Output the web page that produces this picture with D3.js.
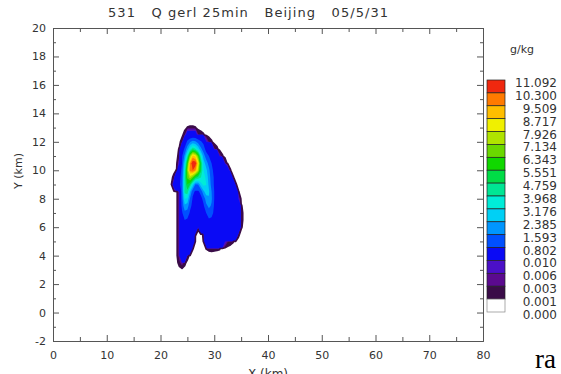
<!DOCTYPE html>
<html>
<head>
<meta charset="utf-8">
<script src="https://cdn.jsdelivr.net/npm/d3@7"></script>
<style>
  body { margin: 0; background: #fff; }
  text { font-family: "DejaVu Sans", sans-serif; fill: #333; }
  .axis path, .axis line { stroke: #555; }
</style>
</head>
<body>
<div id="chart"></div>
<script>
var title = "531   Q gerl 25min   Beijing   05/5/31";
var xTicks = [0, 10, 20, 30, 40, 50, 60, 70, 80];
var xMinor = [5, 15, 25, 35, 45, 55, 65, 75];
var yTicks = [-2, 0, 2, 4, 6, 8, 10, 12, 14, 16, 18, 20];
var yMinor = [-1, 1, 3, 5, 7, 9, 11, 13, 15, 17, 19];

// contour levels (g/kg), lowest first
var levels = [0.001, 0.003, 0.006, 0.010, 0.802, 1.593, 2.385, 3.176, 3.968,
              4.759, 5.551, 6.343, 7.134, 7.926, 8.717, 9.509, 10.300];
var levelColors = ["#3a0c48", "#5b0a8f", "#4b10c8", "#0a0af5", "#0050ff", "#0096ff",
                   "#00d0f5", "#00ecd8", "#00e694", "#00dc46", "#10d800", "#6ad800",
                   "#b0e400", "#f0f000", "#ffbe00", "#ff7a00", "#f0280f"];
var legendLabels = ["11.092", "10.300", "9.509", "8.717", "7.926", "7.134", "6.343",
                    "5.551", "4.759", "3.968", "3.176", "2.385", "1.593", "0.802",
                    "0.010", "0.006", "0.003", "0.001", "0.000"];

// Q graupel grid, x = 21.5..36 km, y = 13.5..2.5 km (top row first), 0.5 km step
var gridX0 = 21.5, gridY0 = 13.5, gridStep = 0.5;
var qg = [
  [0,0,0,0,0,0,0,0,0,0,0,0,0,0,0,0,0,0,0,0,0,0,0,0,0,0,0,0,0,0],
  [0,0,0,0,0,0,0,.0011,.0013,.0013,.0011,0,0,0,0,0,0,0,0,0,0,0,0,0,0,0,0,0,0,0],
  [0,0,0,0,0,0,.0025,.02,.02,.02,.02,.0033,.002,.00125,0,0,0,0,0,0,0,0,0,0,0,0,0,0,0,0],
  [0,0,0,0,0,.0025,.05,1.0,1.5,1.9,1.7,1.2,.9,.6,.01,.0028,.0013,0,0,0,0,0,0,0,0,0,0,0,0,0],
  [0,0,0,0,.0013,.1,1.0,2.0,3.5,4.5,4.0,3.0,1.8,1.2,.5,.1,.1,.0036,.0015,0,0,0,0,0,0,0,0,0,0,0],
  [0,0,0,0,.0023,.7,1.8,4.0,7.0,9.0,8.5,6.5,3.8,2.0,1.2,.8,.5,.1,.1,.005,.0013,0,0,0,0,0,0,0,0,0],
  [0,0,0,0,.01,.8,2.8,6.0,9.5,11.0,10.8,8.5,5.2,2.8,2.0,1.3,.8,.5,.5,.3,.1,.0038,0,0,0,0,0,0,0,0],
  [0,0,0,.00125,.4,1.0,3.5,7.0,9.8,10.3,9.5,7.5,5.0,3.2,2.6,1.8,1.0,.6,.5,.5,.5,.1,.02,.0012,0,0,0,0,0,0],
  [0,0,.002,.1,.5,1.2,4.0,6.5,7.5,6.5,5.0,4.5,4.0,3.5,3.0,2.0,1.2,.7,.5,.5,.5,.5,.5,.1,.0013,0,0,0,0,0],
  [0,0,.02,.3,.6,1.3,4.0,5.5,4.8,3.0,1.5,1.6,2.8,3.4,3.2,2.2,1.3,.7,.5,.5,.5,.5,.5,.5,.1,.0014,0,0,0,0],
  [0,0,0,0,.005,1.2,4.2,4.5,2.5,1.0,.7,.7,1.0,2.2,2.8,2.5,1.6,.8,.5,.5,.5,.5,.5,.5,.5,.1,.0012,0,0,0],
  [0,0,0,0,.005,1.1,3.2,3.0,1.5,.7,.5,.5,.6,1.0,2.0,2.3,1.7,.8,.5,.5,.5,.5,.5,.5,.5,.3,.01,0,0,0],
  [0,0,0,0,.005,1.0,2.2,2.0,1.0,.6,.5,.5,.5,.7,1.4,1.8,1.5,.7,.5,.5,.5,.5,.5,.5,.5,.5,.1,.0014,0,0],
  [0,0,0,0,.005,.7,1.3,1.2,.7,.5,.5,.5,.5,.5,.8,1.2,1.1,.6,.5,.5,.5,.5,.5,.5,.5,.5,.1,.0025,0,0],
  [0,0,0,0,.005,.5,.8,.7,.5,.5,.5,.5,.5,.5,.6,.7,.6,.5,.5,.5,.5,.5,.5,.5,.5,.5,.1,.0025,0,0],
  [0,0,0,0,.005,.5,.5,.5,.5,.5,.5,.0017,.5,.5,.5,.5,.5,.5,.5,.5,.5,.5,.5,.5,.5,.5,.1,.0015,0,0],
  [0,0,0,0,.005,.5,.5,.5,.5,.3,.0014,0,0,.0015,.1,.5,.5,.5,.5,.5,.5,.5,.5,.5,.3,.1,.0017,0,0,0],
  [0,0,0,0,.005,.5,.5,.5,.5,.05,0,0,0,.0011,.1,.3,.3,.3,.3,.3,.3,.01,.0033,.002,.0012,0,0,0,0,0],
  [0,0,0,0,.005,.5,.5,.3,.1,.0012,0,0,0,0,.0011,.0015,.0017,.0015,.0014,.0012,0,0,0,0,0,0,0,0,0,0],
  [0,0,0,0,.005,.5,.3,.0025,0,0,0,0,0,0,0,0,0,0,0,0,0,0,0,0,0,0,0,0,0,0],
  [0,0,0,0,.002,.005,.0017,0,0,0,0,0,0,0,0,0,0,0,0,0,0,0,0,0,0,0,0,0,0,0],
  [0,0,0,0,0,0,0,0,0,0,0,0,0,0,0,0,0,0,0,0,0,0,0,0,0,0,0,0,0,0],
  [0,0,0,0,0,0,0,0,0,0,0,0,0,0,0,0,0,0,0,0,0,0,0,0,0,0,0,0,0,0]
];

var w = 561, h = 374;
var plotLeft = 53, plotRight = 483, plotTop = 28, plotBottom = 341;

var svg = d3.select("#chart").append("svg")
    .attr("width", w)
    .attr("height", h);

var x = d3.scaleLinear().domain([0, 80]).range([plotLeft, plotRight]);
var y = d3.scaleLinear().domain([-2, 20]).range([plotBottom, plotTop]);

// filled contours
var nx = qg[0].length, ny = qg.length;
var values = [].concat.apply([], qg);
var contours = d3.contours().size([nx, ny]).thresholds(levels)(values);

var proj = d3.geoTransform({
  point: function(gx, gy) {
    this.stream.point(x(gridX0 + gridStep * (gx - 0.5)), y(gridY0 - gridStep * (gy - 0.5)));
  }
});
var path = d3.geoPath(proj);

var cg = svg.append("g");
cg.selectAll("path.band")
    .data(contours)
    .enter().append("path")
    .attr("class", "band")
    .attr("d", path)
    .attr("fill", function(d, i) { return levelColors[i]; });

// dark rim of the lowest level
cg.append("path")
    .attr("d", path(contours[0]))
    .attr("fill", "none")
    .attr("stroke", levelColors[0])
    .attr("stroke-width", 1.6)
    .attr("stroke-linejoin", "round");

// axes, IDL style box with inward ticks
function drawAxis(axis, tx, ty) {
  return svg.append("g").attr("class", "axis")
      .attr("transform", "translate(" + tx + "," + ty + ")")
      .call(axis);
}
var fmt = function(d) { return String(d); };

drawAxis(d3.axisBottom(x).tickValues(xTicks).tickFormat(fmt).tickSizeInner(-6).tickSizeOuter(0).tickPadding(10), 0, plotBottom);
drawAxis(d3.axisBottom(x).tickValues(xMinor).tickFormat("").tickSizeInner(-4).tickSizeOuter(0), 0, plotBottom);
drawAxis(d3.axisTop(x).tickValues(xTicks).tickFormat("").tickSizeInner(-6).tickSizeOuter(0), 0, plotTop);
drawAxis(d3.axisTop(x).tickValues(xMinor).tickFormat("").tickSizeInner(-4).tickSizeOuter(0), 0, plotTop);
drawAxis(d3.axisLeft(y).tickValues(yTicks).tickFormat(fmt).tickSizeInner(-6).tickSizeOuter(0).tickPadding(7), plotLeft, 0);
drawAxis(d3.axisLeft(y).tickValues(yMinor).tickFormat("").tickSizeInner(-3).tickSizeOuter(0), plotLeft, 0);
drawAxis(d3.axisRight(y).tickValues(yTicks).tickFormat("").tickSizeInner(-6).tickSizeOuter(0), plotRight, 0);
drawAxis(d3.axisRight(y).tickValues(yMinor).tickFormat("").tickSizeInner(-3).tickSizeOuter(0), plotRight, 0);

svg.selectAll(".axis text")
    .style("font-family", "'DejaVu Sans', sans-serif")
    .style("font-size", "11px")
    .style("fill", "#333");

// titles
svg.append("text")
    .attr("x", 108).attr("y", 17)
    .attr("textLength", 280).attr("lengthAdjust", "spacing")
    .style("white-space", "pre")
    .style("font-size", "13px")
    .text(title);

svg.append("text")
    .attr("transform", "translate(22,171) rotate(-90)")
    .attr("text-anchor", "middle")
    .style("font-size", "11px")
    .text("Y (km)");

svg.append("text")
    .attr("x", 268).attr("y", 378)
    .attr("text-anchor", "middle")
    .style("font-size", "12px")
    .text("X (km)");

// color bar
var ly = d3.scaleLinear().domain([0, legendLabels.length - 1]).range([80, 312]);
var boxColors = levelColors.slice().reverse().concat(["#ffffff"]);

svg.append("g").selectAll("rect")
    .data(boxColors)
    .enter().append("rect")
    .attr("x", 487)
    .attr("y", function(d, i) { return ly(i); })
    .attr("width", 18)
    .attr("height", function(d, i) { return ly(i + 1) - ly(i); })
    .attr("fill", function(d) { return d; })
    .attr("stroke", function(d, i) { return i == boxColors.length - 1 ? "#888" : "#222"; })
    .attr("stroke-width", 0.7);

svg.append("g").selectAll("text")
    .data(legendLabels)
    .enter().append("text")
    .attr("x", 557)
    .attr("y", function(d, i) { return ly(i) + 3.5; })
    .attr("text-anchor", "end")
    .attr("dominant-baseline", "middle")
    .style("font-size", "12px")
    .text(function(d) { return d; });

svg.append("text")
    .attr("x", 522).attr("y", 53)
    .attr("text-anchor", "middle")
    .style("font-size", "11px")
    .text("g/kg");

svg.append("text")
    .attr("x", 535).attr("y", 368)
    .style("font-family", "'Liberation Serif', serif")
    .style("font-size", "27px")
    .style("fill", "#000")
    .text("ra");
</script>
</body>
</html>
